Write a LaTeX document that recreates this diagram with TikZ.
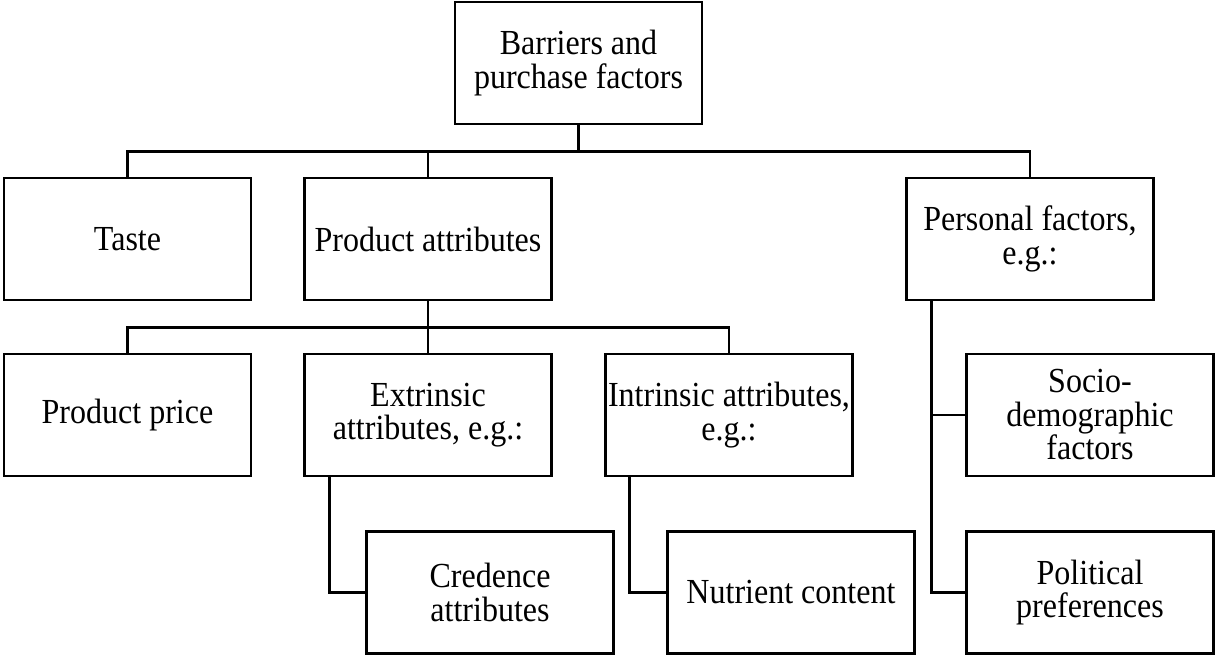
\documentclass[tikz,border=0pt]{standalone}
\usepackage{fontspec}
\setmainfont{Liberation Serif}
\newfontfamily\boxfont[FakeStretch=0.91]{Liberation Serif}
\usetikzlibrary{calc}
\begin{document}
\begin{tikzpicture}[x=1pt,y=-1pt,
  box/.style={draw=black,line width=2.6pt,minimum width=247pt,minimum height=122pt,inner sep=0pt,align=center,font=\boxfont\fontsize{35.2}{33.5}\selectfont},
  link/.style={draw=black,line width=2.6pt}]
\useasboundingbox (0,0) rectangle (1215,657);
\node[box] (root) at (578.5,63) {Barriers and\\purchase factors};
\node[box] (taste) at (127.5,239) {Taste};
\node[box] (pa) at (428,239) {Product attributes};
\node[box] (pers) at (1030,239) {Personal factors,\\e.g.:};
\node[box] (price) at (127.5,415) {Product price};
\node[box] (extr) at (428,415) {Extrinsic\\attributes, e.g.:};
\node[box] (intr) at (729,415) {Intrinsic attributes,\\e.g.:};
\node[box] (socio) at (1090,415) {Socio-\\demographic\\factors};
\node[box] (cred) at (490,592.5) {Credence\\attributes};
\node[box] (nut) at (791,592.5) {Nutrient content};
\node[box] (pol) at (1090,592.5) {Political\\preferences};
% level 1
\draw[link] (root.south) -- ++(0,26) -| (taste.north);
\draw[link] (root.south) -- ++(0,26) -| (pa.north);
\draw[link] (root.south) -- ++(0,26) -| (pers.north);
% level 2
\draw[link] (pa.south) -- ++(0,26) -| (price.north);
\draw[link] (pa.south) -- ++(0,26) -| (extr.north);
\draw[link] (pa.south) -- ++(0,26) -| (intr.north);
% side branches
\draw[link] ($(extr.south west)+(26,0)$) |- (cred.west);
\draw[link] ($(intr.south west)+(25,0)$) |- (nut.west);
\draw[link] ($(pers.south west)+(26,0)$) |- (socio.west);
\draw[link] ($(pers.south west)+(26,0)$) |- (pol.west);
\end{tikzpicture}
\end{document}
